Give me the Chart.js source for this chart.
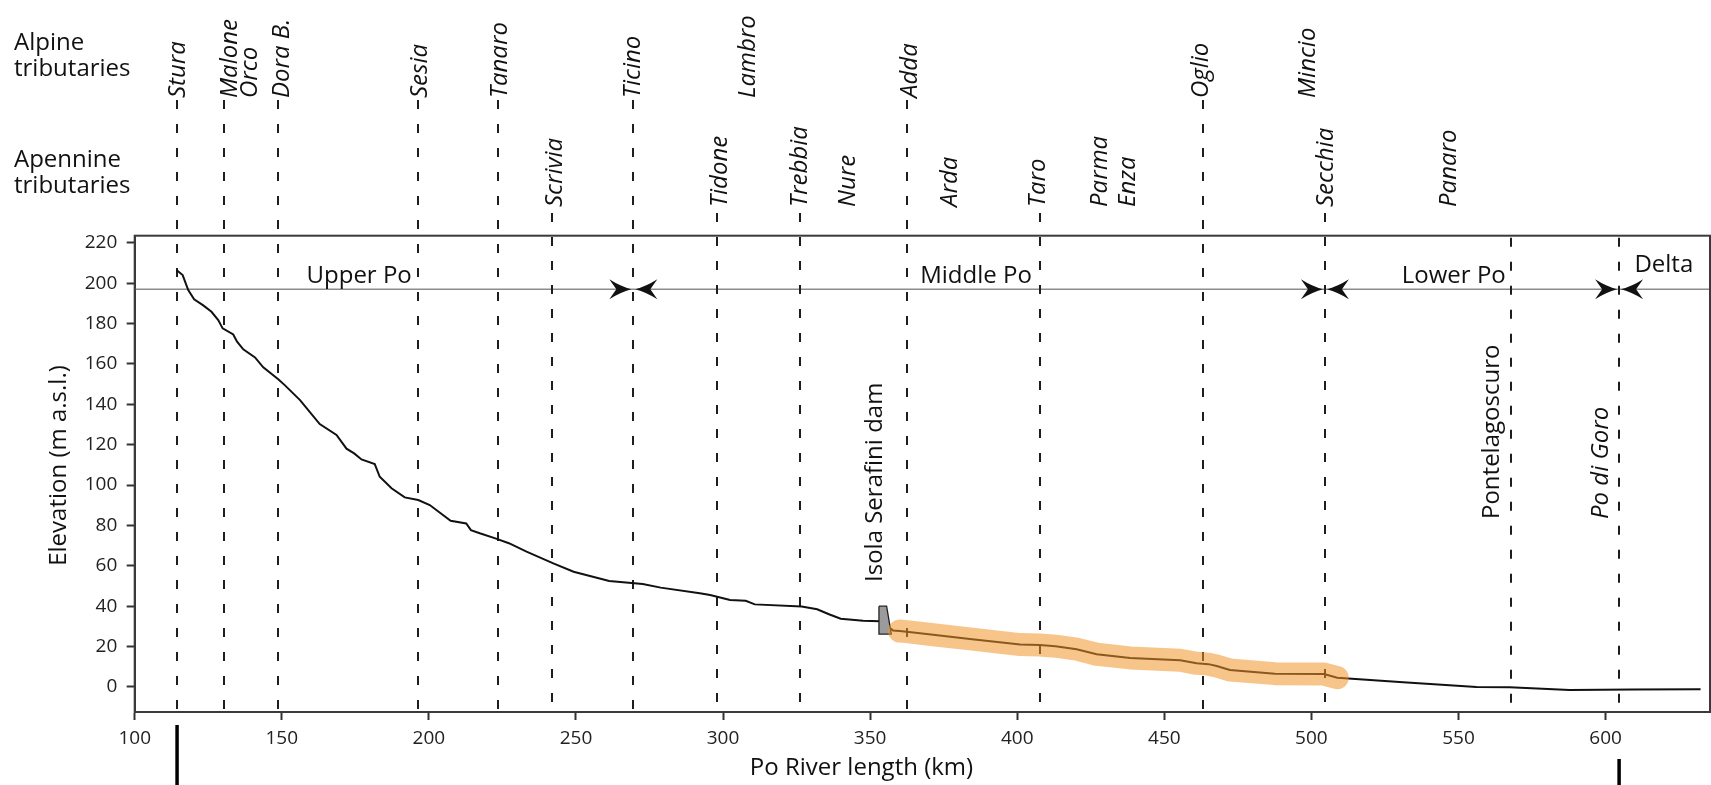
<!DOCTYPE html>
<html><head><meta charset="utf-8">
<script src="https://cdn.jsdelivr.net/npm/chart.js@4.4.1/dist/chart.umd.min.js"></script>
<style>html,body{margin:0;padding:0;background:#fff;overflow:hidden}canvas{display:block}</style>
</head><body>
<canvas id="c" width="1711" height="785"></canvas>
<script>
// ---------------- DATA ----------------
const profileKm = [114.2,116.3,118.2,120.2,123.3,126.1,128.4,129.9,133.5,134.8,136.9,140.9,143.7,148.8,151.0,156.2,162.9,168.6,172.0,174.6,177.1,181.6,183.3,187.3,191.8,196.4,200.3,207.4,212.7,214.3,217.3,222.6,227.2,233.2,242.3,249.2,261.3,272.7,278.8,292.1,295.6,302.4,307.7,310.8,326.7,332.0,336.0,340.0,347.6,353.4,357.8,360.0,362.4,370.7,383.9,401.0,407.7,413.0,420.2,427.0,438.4,455.4,461.0,465.0,467.8,472.3,487.6,504.3,508.8,531.2,556.1,567.4,587.8,609.3,632.3];
const profileElev = [206.5,204.0,196.6,192.0,189.0,185.8,181.7,177.6,174.6,171.0,167.2,163.2,158.3,152.4,149.5,142.1,130.2,124.8,118.0,115.7,112.7,110.4,104.1,98.4,93.9,92.6,90.1,82.3,81.0,77.7,76.1,73.6,71.2,67.0,61.2,57.1,52.5,51.0,49.2,46.4,45.5,43.1,42.7,40.9,39.8,38.5,36.0,33.8,32.8,32.6,28.0,27.7,27.4,26.0,23.8,21.0,20.8,20.2,18.7,16.2,14.4,13.2,11.7,11.3,10.4,8.4,6.6,6.4,4.6,2.3,0.0,-0.2,-1.5,-1.2,-1.1];

// highlighted reach (km range along the profile)
const reachStartKm = 360.0;
const reachEndKm = 508.8;

// Isola Serafini dam outline (km, elevation)
const damKm   = [353.0, 355.6, 357.2, 353.0, 353.0];
const damElev = [40.0, 40.0, 26.2, 26.2, 40.0];

// axis ticks
const xTickValues = [100,150,200,250,300,350,400,450,500,550,600];
const yTickValues = [0,20,40,60,80,100,120,140,160,180,200,220];

// tributary confluences (dashed lines)
const alpineLineKm   = [114.3, 130.4, 148.7, 196.3, 223.5, 269.5, 362.4, 463.3];
const apennineLineKm = [241.9, 298.0, 326.2, 407.7, 504.6];
const siteLineKm     = [567.9, 604.6];

// labels: [text, km]
const alpineLabels = [["Stura",117.1],["Malone",134.8],["Orco",141.5],["Dora B.",152.4],["Sesia",199.3],["Tanaro",226.6],["Ticino",271.7],["Lambro",310.8],["Adda",365.8],["Oglio",465.0],["Mincio",501.2]];
const apennineLabels = [["Scrivia",245.4],["Tidone",301.2],["Trebbia",328.4],["Nure",344.8],["Arda",379.4],["Taro",409.4],["Parma",430.5],["Enza",440.0],["Secchia",507.4],["Panaro",549.3]];
const siteLabels = [["Pontelagoscuro",563.9,false],["Po di Goro",600.7,true]];
const damLabel = ["Isola Serafini dam", 354.2];

// river sections
const reachLineElev = 197;
const sectionLabels = [["Upper Po",176.3],["Middle Po",386.0],["Lower Po",548.4],["Delta",619.8]];
const sectionBoundsKm = [269.5, 504.6, 604.6];
const studyEndsKm = [114.4, 604.6];

const xTitle = "Po River length (km)";
const yTitle = "Elevation (m a.s.l.)";
const rowTitles = [["Alpine","tributaries"],["Apennine","tributaries"]];

// ---------------- BUILD ----------------
const profilePts = profileKm.map((k,i)=>({x:k,y:profileElev[i]}));
const reachPts = profilePts.filter(p=>p.x>=reachStartKm && p.x<=reachEndKm);
const damPts = damKm.map((k,i)=>({x:k,y:damElev[i]}));

const FONT = '"Open Sans", "Noto Sans", sans-serif';
const TXT = '#111';

function vText(ctx, text, x, yBottom, italic){
  ctx.save();
  ctx.translate(x, yBottom);
  ctx.rotate(-Math.PI/2);
  ctx.font = (italic?'italic ':'') + '24px ' + FONT;
  ctx.fillStyle = TXT;
  ctx.textAlign = 'left';
  ctx.textBaseline = 'alphabetic';
  ctx.fillText(text, 0, 0);
  ctx.restore();
}
function arrowHead(ctx, tipX, y, dir){
  const L = 22, H = 10, N = 15;
  ctx.beginPath();
  ctx.moveTo(tipX, y);
  ctx.quadraticCurveTo(tipX - dir*11, y - 3, tipX - dir*L, y - H);
  ctx.lineTo(tipX - dir*N, y);
  ctx.lineTo(tipX - dir*L, y + H);
  ctx.quadraticCurveTo(tipX - dir*11, y + 3, tipX, y);
  ctx.closePath();
  ctx.fill();
}

const annot = {
  id: 'annot',
  beforeDatasetsDraw(chart){
    const {ctx, chartArea:a, scales:{x,y}} = chart;
    ctx.save();
    const yr = y.getPixelForValue(reachLineElev);
    ctx.strokeStyle = '#8c8c8c'; ctx.lineWidth = 1.5;
    ctx.beginPath(); ctx.moveTo(a.left, yr); ctx.lineTo(a.right, yr); ctx.stroke();
    ctx.strokeStyle = '#1e1e1e'; ctx.lineWidth = 2; ctx.setLineDash([9,15]);
    const drawSet = (kms, top) => kms.forEach(k => {
      const px = Math.round(x.getPixelForValue(k));
      ctx.beginPath(); ctx.moveTo(px, top); ctx.lineTo(px, a.bottom); ctx.stroke();
    });
    drawSet(alpineLineKm, 100);
    drawSet(apennineLineKm, 213);
    drawSet(siteLineKm, a.top + 2);
    ctx.restore();
  },
  afterDatasetsDraw(chart){
    const {ctx, chartArea:a, scales:{x,y}} = chart;
    ctx.save();
    // plot frame
    ctx.strokeStyle = '#3a3a3a'; ctx.lineWidth = 2;
    ctx.strokeRect(a.left, a.top, a.right - a.left, a.bottom - a.top);
    // rotated labels
    alpineLabels.forEach(([t,k]) => vText(ctx, t, x.getPixelForValue(k), 98, true));
    apennineLabels.forEach(([t,k]) => vText(ctx, t, x.getPixelForValue(k), 207, true));
    siteLabels.forEach(([t,k,it]) => vText(ctx, t, x.getPixelForValue(k), 519, it));
    vText(ctx, damLabel[0], x.getPixelForValue(damLabel[1]), 582, false);
    // section labels and arrows
    const yr = y.getPixelForValue(reachLineElev);
    ctx.fillStyle = TXT; ctx.font = '24px ' + FONT; ctx.textAlign = 'center'; ctx.textBaseline = 'alphabetic';
    sectionLabels.forEach(([t,k],i) => ctx.fillText(t, x.getPixelForValue(k), i === 3 ? yr - 17 : yr - 6));
    ctx.fillStyle = '#111';
    sectionBoundsKm.forEach(k => {
      const px = x.getPixelForValue(k);
      arrowHead(ctx, px - 2, yr, 1);
      arrowHead(ctx, px + 2, yr, -1);
    });
    // row titles
    ctx.fillStyle = TXT; ctx.textAlign = 'left'; ctx.font = '24px ' + FONT;
    ctx.fillText(rowTitles[0][0], 14, 50);
    ctx.fillText(rowTitles[0][1], 14, 76);
    ctx.fillText(rowTitles[1][0], 14, 167);
    ctx.fillText(rowTitles[1][1], 14, 193);
    // axis titles
    ctx.textAlign = 'center';
    ctx.fillText(xTitle, 861.5, 775);
    ctx.save();
    ctx.translate(65.5, 465.5); ctx.rotate(-Math.PI/2);
    ctx.fillText(yTitle, 0, 0);
    ctx.restore();
    // study reach end bars
    ctx.strokeStyle = '#000'; ctx.lineWidth = 3.5;
    const tops = [725, 759];
    studyEndsKm.forEach((k,i) => {
      const px = x.getPixelForValue(k);
      ctx.beginPath(); ctx.moveTo(px, tops[i]); ctx.lineTo(px, 785); ctx.stroke();
    });
    ctx.restore();
  }
};

new Chart(document.getElementById('c'), {
  type: 'line',
  data: {
    datasets: [
      {label:'Studied reach', data: reachPts, borderColor:'rgba(240,150,40,0.55)', borderWidth:23,
       borderCapStyle:'round', borderJoinStyle:'round', pointRadius:0, fill:false, order:0, tension:0},
      {label:'Isola Serafini dam', data: damPts, borderColor:'#222', borderWidth:1.3, backgroundColor:'#9b9b9b',
       fill:'shape', pointRadius:0, order:1, tension:0},
      {label:'Elevation', data: profilePts, borderColor:'#111', borderWidth:2, pointRadius:0, fill:false, order:2, tension:0}
    ]
  },
  options: {
    responsive: false,
    animation: false,
    devicePixelRatio: 1,
    layout: { padding: { top: 235.7, right: 1, left: 0, bottom: 0 } },
    plugins: { legend: {display:false}, tooltip: {enabled:false} },
    scales: {
      x: {
        type: 'linear', min: 100, max: 635.5,
        afterBuildTicks: s => { s.ticks = xTickValues.map(v => ({value:v})); },
        afterFit: s => { s.height = 73; },
        grid: { display:true, drawOnChartArea:false, drawTicks:true, tickLength:8, tickColor:'#333', tickWidth:2, color:'#333' },
        border: { display:true, color:'#3a3a3a', width:2 },
        ticks: { font:{family:FONT, size:19}, color:'#222', padding:7, maxRotation:0, autoSkip:false }
      },
      y: {
        type: 'linear', min: -12.4, max: 223.5,
        afterBuildTicks: s => { s.ticks = yTickValues.map(v => ({value:v})); },
        afterFit: s => { s.width = 134.7; },
        grid: { display:true, drawOnChartArea:false, drawTicks:true, tickLength:8, tickColor:'#333', tickWidth:2, color:'#333' },
        border: { display:true, color:'#3a3a3a', width:2 },
        ticks: { font:{family:FONT, size:19}, color:'#222', padding:9.4 }
      }
    }
  },
  plugins: [annot]
});
</script>
</body></html>
